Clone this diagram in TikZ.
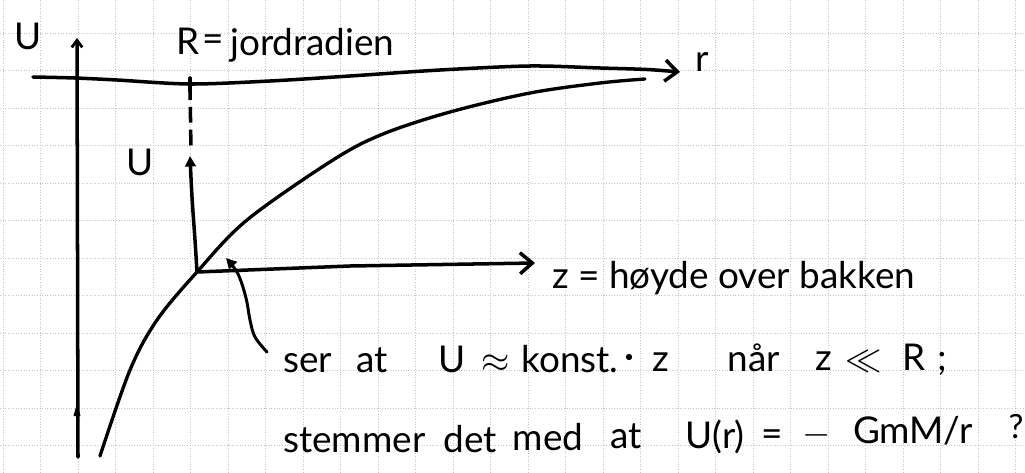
\documentclass[tikz,border=0pt]{standalone}
\usepackage{fontspec}
\setmainfont{Lato}
\usetikzlibrary{arrows.meta}
\begin{document}
\begin{tikzpicture}[x=0.02cm,y=-0.02cm,
  gridline/.style={gray!45,densely dotted,line width=0.5pt},
  axis/.style={line width=2pt,line cap=round,line join=round},
  curve/.style={line width=1.9pt,line cap=round},
  lbl/.style={inner sep=0pt,anchor=base,font=\fontsize{21}{24}\selectfont},
  bigbarb/.style={-{Straight Barb[length=7pt,width=12pt,line width=2pt]}},
  smallbarb/.style={-{Straight Barb[length=4pt,width=6pt,line width=1.6pt]}},
  filltip/.style={-{Triangle[length=6pt,width=6pt]}}
]
\useasboundingbox (0,0) rectangle (1025,473);
\fill[white] (0,0) rectangle (1025,473);
% grid paper
\foreach \k in {0,...,27} \draw[gridline] ({3+37.5*\k},0) -- ({3+37.5*\k},473);
\foreach \k in {0,...,11} \draw[gridline] (0,{33+37.5*\k}) -- (1025,{33+37.5*\k});

% named points
\coordinate (Ubot) at (78,457);
\coordinate (Utop) at (77,38);
\coordinate (O) at (197,272);
\coordinate (zend) at (535,263);
\coordinate (Rtick) at (190,84);
\coordinate (Rlow) at (191,152);
\coordinate (Uloc) at (190,156);

% U axis
\draw[axis,smallbarb] (Ubot) -- (Utop);
\fill (73.5,416) -- (80.5,416) -- (77,403) -- cycle;

% r axis
\draw[axis,bigbarb] plot[smooth,tension=0.5] coordinates {(33,77) (75,78) (117,80) (190,84) (270,81) (350,76) (440,70) (530,66) (600,68) (647,69.5) (680,72)};
\draw[axis] (190,78) -- (190,91);

% dashed line from R down to local U axis
\draw[line width=2pt,dash pattern=on 9pt off 4pt] (Rtick) -- (Rlow);

% local U axis
\draw[axis,filltip] plot[smooth,tension=0.6] coordinates {(O) (195,240) (192,197) (Uloc)};

% z axis
\draw[axis,bigbarb] (O) -- (350,266) -- (zend);

% potential curve
\draw[curve] plot[smooth,tension=0.55] coordinates {(100,456) (130,370) (157,320) (O) (247,220) (333,160) (383,134) (450,112) (530,93) (600,83) (645,79)};

% pointer arrow
\coordinate (pstart) at (267,352);
\coordinate (pend) at (226,258);
\draw[curve,line width=1.7pt,filltip] plot[smooth,tension=0.6] coordinates {(pstart) (255,337) (250,320) (246,298) (238,274) (pend)};

% labels
\node[lbl] (Utl) at (28,50) {U};
\node[lbl] (Rl) at (188,55) {R};
\node[lbl] (Req) at (213,52) {=};
\node[lbl,anchor=base west] (jord) at (230,56) {jordradien};
\node[lbl] (rl) at (702,72) {r};
\node[lbl] (Ul) at (140,175) {U};

\node[lbl,anchor=base west] (zlab) at (552,288) {z = høyde over bakken};

\node[lbl,anchor=base west] (ser) at (283,372) {ser};
\node[lbl] (at1) at (372,372) {at};
\node[lbl] (U2) at (452,372) {U};
\node[lbl] (apx) at (496,372) {$\approx$};
\node[lbl] (konst) at (570,372) {konst.};
\node[circle,fill,inner sep=0pt,minimum size=3.6pt] (dot) at (629,357) {};
\node[lbl] (z2) at (661,371) {z};
\node[lbl] (naar) at (754,371) {når};
\node[lbl] (z3) at (824,370) {z};
\node[lbl] (ll) at (864,370) {$\ll$};
\node[lbl] (R2) at (914,370) {R};
\node[lbl] (semi) at (942,370) {;};

\node[lbl,anchor=base west] (stem) at (283,452) {stemmer};
\node[lbl] (det) at (470,452) {det};
\node[lbl] (med) at (548,450) {med};
\node[lbl] (at2) at (626,448) {at};
\node[lbl] (Ur) at (715,448) {U(r)};
\node[lbl] (eq2) at (772,446) {=};
\node[lbl] (minus) at (817,444) {$-$};
\node[lbl] (Gm) at (913,443) {GmM/r};
\node[lbl,font=\fontsize{19}{21}\selectfont] (q) at (1016,438) {?};
\end{tikzpicture}
\end{document}
